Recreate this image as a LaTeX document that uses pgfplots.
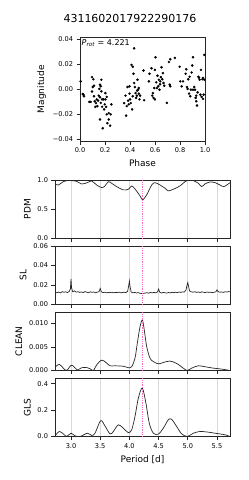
\documentclass[border=0pt]{standalone}
\usepackage{pgfplots}
\pgfplotsset{compat=1.18}
\usepackage{fontspec}
\setmainfont{DejaVu Sans}

\pgfplotsset{
  common/.style={
    scale only axis,
    tick align=outside, major tick length=3.5bp,
    xtick pos=bottom, ytick pos=left,
    axis line style={black!85, line width=0.8bp},
    tick style={black!85, line width=0.7bp},
    ticklabel style={font=\fontsize{6.6bp}{7.5bp}\selectfont},
    label style={font=\fontsize{9bp}{10bp}\selectfont},
    scaled ticks=false,
  },
  panel/.style={
    common,
    width=175bp, height=58.5bp,
    xmin=2.726, xmax=5.723,
    xtick={3,3.5,4,4.5,5,5.5},
    xmajorgrids, grid style={gray!30, line width=0.6bp},
    xticklabels={},
  },
  curve/.style={black!85, line width=0.7bp, smooth, tension=0.5},
  rot/.style={magenta!55, densely dotted, line width=0.8bp},
}

\begin{document}
\begin{tikzpicture}
\useasboundingbox (0,0) rectangle (249bp,-480bp);

\node[font=\fontsize{11bp}{12bp}\selectfont] at (130bp,-18bp) {4311602017922290176};

% Phase-folded light curve
\begin{axis}[common,
  at={(80bp,-37.5bp)}, anchor=north west,
  width=125bp, height=103.5bp,
  xmin=0, xmax=1, ymin=-0.0412, ymax=0.0413,
  xtick={0,0.2,0.4,0.6,0.8,1.0},
  xticklabels={0.0,0.2,0.4,0.6,0.8,1.0},
  ytick={-0.04,-0.02,0,0.02,0.04},
  yticklabels={−0.04,−0.02,0.00,0.02,0.04},
  xlabel={Phase}, ylabel={Magnitude},
]
\addplot[only marks, mark=*, mark size=1.05bp, black] coordinates {
(0.005,0.0063) (0.021,-0.0037) (0.032,-0.0055) (0.027,-0.0042)
(0.075,-0.010) (0.086,-0.010) (0.096,0.0097) (0.107,0.008)
(0.102,0.0018) (0.112,0.0029) (0.096,-0.0018) (0.112,-0.0055)
(0.118,-0.0095) (0.134,-0.008) (0.123,-0.014) (0.139,-0.0134)
(0.150,-0.005) (0.155,0.0003) (0.160,0.0037) (0.166,0.0024)
(0.171,-0.0016) (0.160,-0.0063) (0.177,-0.008) (0.166,-0.0108)
(0.177,-0.0139) (0.160,-0.024) (0.182,-0.031) (0.193,-0.016)
(0.203,-0.008) (0.198,-0.012) (0.214,-0.020) (0.219,-0.027)
(0.230,-0.024) (0.241,-0.029) (0.230,-0.019) (0.246,-0.020)
(0.251,-0.012) (0.214,-0.006) (0.203,-0.003) (0.171,0.0076)
(0.187,-0.008) (0.145,-0.009) (0.128,-0.011) (0.209,-0.014)
(0.353,-0.011) (0.364,-0.005) (0.369,-0.021) (0.374,-0.0134)
(0.380,0.0018) (0.396,0.0024) (0.396,-0.0034) (0.401,-0.008)
(0.406,-0.011) (0.412,0.0195) (0.422,0.018) (0.428,0.0124)
(0.433,0.005) (0.439,0.0018) (0.422,-0.0055) (0.444,-0.003)
(0.449,-0.0068) (0.455,-0.005) (0.460,0.0076) (0.465,-0.0003)
(0.471,-0.0034) (0.476,-0.008) (0.481,-0.005) (0.417,-0.016)
(0.508,0.015) (0.513,-0.0087) (0.433,0.0326) (0.385,-0.009)
(0.390,-0.012) (0.457,-0.001) (0.470,0.001)
(0.551,0.0063) (0.556,0.0124) (0.572,0.0168) (0.578,-0.005)
(0.588,-0.0068) (0.594,0.001) (0.599,0.0155) (0.604,0.0255)
(0.610,0.0055) (0.620,0.0108) (0.626,0.0024) (0.631,0.0076)
(0.636,-0.0003) (0.642,0.0063) (0.647,0.0097) (0.652,0.0176)
(0.663,0.0129) (0.668,0.005) (0.674,0.0029) (0.599,-0.008)
(0.583,-0.003) (0.695,-0.0108) (0.717,0.0037) (0.722,0.0024)
(0.711,0.0218) (0.722,0.024) (0.759,0.025) (0.658,0.008)
(0.615,0.001) (0.640,0.004)
(0.797,0.018) (0.802,0.0063) (0.813,0.0024) (0.824,0.0063)
(0.845,0.0124) (0.850,0.016) (0.856,0.0018) (0.861,0.0003)
(0.872,-0.0034) (0.877,0.010) (0.882,-0.0055) (0.893,0.0134)
(0.898,0.019) (0.904,0.0255) (0.904,-0.0003) (0.914,0.0018)
(0.920,-0.0003) (0.925,-0.0068) (0.930,-0.0095) (0.936,-0.0129)
(0.941,-0.0024) (0.947,0.010) (0.952,0.0092) (0.957,0.0076)
(0.963,-0.0042) (0.968,0.0155) (0.973,-0.006) (0.979,0.008)
(0.984,-0.0076) (0.989,-0.0042) (0.995,0.0274) (0.995,0.0076)
(0.984,0.009) (0.930,-0.005) (0.887,-0.0003) (0.866,0.008)
};
\node[anchor=north west, inner sep=1.5bp, font=\fontsize{8bp}{9bp}\selectfont] at (rel axis cs:0,1) {\textit{P}\textsubscript{\textit{rot}} = 4.221};
\end{axis}

% PDM
\begin{axis}[panel, at={(55bp,-180bp)}, anchor=north west,
  ymin=0, ymax=1, ytick={0,0.5,1}, yticklabels={0.0,0.5,1.0}, ylabel={PDM}]
\addplot[curve] coordinates {
(2.726,0.932) (2.783,0.915) (2.869,0.972) (2.926,0.989) (3.011,0.989)
(3.097,0.977) (3.183,0.932) (3.280,0.955) (3.354,0.983) (3.440,0.915)
(3.525,0.870) (3.582,0.898) (3.639,0.972) (3.696,0.944) (3.782,0.887)
(3.896,0.831) (3.982,0.842) (4.039,0.898) (4.096,0.847) (4.182,0.729)
(4.228,0.661) (4.296,0.746) (4.382,0.915) (4.439,0.955) (4.524,0.915)
(4.610,0.859) (4.667,0.814) (4.752,0.842) (4.866,0.898) (4.952,0.972)
(5.009,1.0) (5.095,0.989) (5.181,0.944) (5.238,0.887) (5.294,0.932)
(5.380,0.966) (5.466,0.955) (5.551,0.915) (5.620,0.887) (5.723,0.955)
};
\addplot[rot] coordinates {(4.221,0) (4.221,1)};
\end{axis}

% SL
\begin{axis}[panel, at={(55bp,-246bp)}, anchor=north west,
  ymin=0, ymax=0.06, ytick={0,0.02,0.04,0.06}, yticklabels={0.00,0.02,0.04,0.06}, ylabel={SL}]
\addplot[black!85, line width=0.7bp] coordinates {
(2.73,0.0125) (2.76,0.0120) (2.79,0.0128) (2.82,0.0118) (2.85,0.0132)
(2.88,0.0126) (2.91,0.0130) (2.94,0.0122) (2.97,0.0135) (2.99,0.0160)
(3.00,0.0262) (3.01,0.0170) (3.03,0.0130) (3.06,0.0140) (3.09,0.0127)
(3.12,0.0131) (3.15,0.0124) (3.18,0.0129) (3.21,0.0122) (3.24,0.0133)
(3.27,0.0126) (3.30,0.0121) (3.33,0.0130) (3.36,0.0125) (3.39,0.0129)
(3.42,0.0120) (3.45,0.0127) (3.48,0.0131) (3.50,0.0165) (3.52,0.0130)
(3.55,0.0122) (3.58,0.0126) (3.61,0.0119) (3.64,0.0124) (3.67,0.0121)
(3.70,0.0126) (3.73,0.0120) (3.76,0.0124) (3.79,0.0122) (3.82,0.0127)
(3.85,0.0120) (3.88,0.0123) (3.91,0.0126) (3.94,0.0122) (3.97,0.0135)
(3.99,0.0200) (4.00,0.0240) (4.01,0.0190) (4.03,0.0128) (4.06,0.0120)
(4.09,0.0124) (4.12,0.0118) (4.15,0.0122) (4.18,0.0115) (4.21,0.0112)
(4.24,0.0114) (4.27,0.0118) (4.30,0.0121) (4.33,0.0116) (4.36,0.0123)
(4.39,0.0119) (4.42,0.0124) (4.45,0.0120) (4.48,0.0128) (4.50,0.0158)
(4.52,0.0126) (4.55,0.0118) (4.58,0.0124) (4.61,0.0120) (4.64,0.0117)
(4.67,0.0123) (4.70,0.0119) (4.73,0.0125) (4.76,0.0121) (4.79,0.0126)
(4.82,0.0122) (4.85,0.0128) (4.88,0.0124) (4.91,0.0130) (4.94,0.0127)
(4.97,0.0150) (4.99,0.0205) (5.00,0.0225) (5.01,0.0195) (5.03,0.0140)
(5.06,0.0130) (5.09,0.0126) (5.12,0.0131) (5.15,0.0124) (5.18,0.0129)
(5.21,0.0123) (5.24,0.0130) (5.27,0.0125) (5.30,0.0122) (5.33,0.0128)
(5.36,0.0124) (5.39,0.0127) (5.42,0.0121) (5.45,0.0126) (5.48,0.0130)
(5.50,0.0150) (5.52,0.0132) (5.55,0.0126) (5.58,0.0129) (5.61,0.0124)
(5.64,0.0131) (5.67,0.0127) (5.70,0.0133) (5.72,0.0130)
};
\addplot[rot] coordinates {(4.221,0) (4.221,0.06)};
\end{axis}

% CLEAN
\begin{axis}[panel, at={(55bp,-312bp)}, anchor=north west,
  ymin=0, ymax=0.0124, ytick={0,0.005,0.010}, yticklabels={0.000,0.005,0.010}, ylabel={CLEAN}]
\addplot[curve] coordinates {
(2.726,0.0007) (2.800,0.0013) (2.869,0.0005) (2.926,0.0) (3.000,0.0011)
(3.051,0.0008) (3.108,0.0001) (3.183,0.0006) (3.280,0.0006) (3.337,0.0003)
(3.383,0.0) (3.440,0.0012) (3.525,0.0022) (3.599,0.0017) (3.668,0.0010)
(3.753,0.0010) (3.896,0.0009) (3.982,0.0006) (4.039,0.0008) (4.096,0.0026)
(4.136,0.0058) (4.182,0.0093) (4.221,0.0107) (4.250,0.0090) (4.296,0.0051)
(4.353,0.0026) (4.410,0.0019) (4.496,0.0014) (4.581,0.0017) (4.695,0.0020)
(4.809,0.0015) (4.923,0.0005) (4.992,0.0) (5.066,0.0005) (5.181,0.0010)
(5.294,0.0008) (5.437,0.0005) (5.580,0.0003) (5.723,0.0)
};
\addplot[rot] coordinates {(4.221,0) (4.221,0.0124)};
\end{axis}

% GLS
\begin{axis}[panel, at={(55bp,-378bp)}, anchor=north west,
  ymin=0, ymax=0.443, ytick={0,0.2,0.4}, yticklabels={0.0,0.2,0.4}, ylabel={GLS},
  xticklabels={3.0,3.5,4.0,4.5,5.0,5.5}, xlabel={Period [d]}]
\addplot[curve] coordinates {
(2.726,0.005) (2.800,0.038) (2.869,0.020) (2.926,0.0) (3.000,0.025)
(3.068,0.005) (3.154,0.0) (3.280,0.025) (3.354,0.008) (3.411,0.025)
(3.508,0.12) (3.582,0.08) (3.668,0.02) (3.725,0.038) (3.811,0.089)
(3.896,0.063) (3.982,0.030) (4.039,0.05) (4.096,0.152) (4.153,0.29)
(4.221,0.367) (4.284,0.25) (4.341,0.10) (4.410,0.025) (4.496,0.018)
(4.581,0.063) (4.667,0.127) (4.724,0.13) (4.809,0.076) (4.895,0.02)
(4.992,0.0) (5.095,0.025) (5.209,0.038) (5.352,0.033) (5.495,0.023)
(5.637,0.013) (5.723,0.0)
};
\addplot[rot] coordinates {(4.221,0) (4.221,0.443)};
\end{axis}
\end{tikzpicture}
\end{document}
